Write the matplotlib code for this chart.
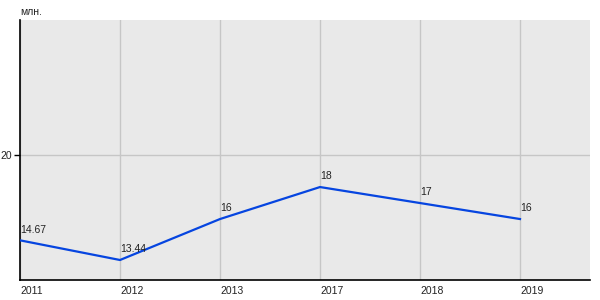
import matplotlib.pyplot as plt

years = ['2011', '2012', '2013', '2017', '2018', '2019']
values = [14.67, 13.44, 16, 18, 17, 16]
value_labels = ['14.67', '13.44', '16', '18', '17', '16']

plt.rcParams['font.family'] = ['Liberation Sans', 'DejaVu Sans']

fig = plt.figure(figsize=(6, 3), dpi=100)
ax = fig.add_axes([20 / 600, 20 / 300, 570 / 600, 260 / 300])
ax.set_facecolor('#e9e9e9')

x = list(range(len(years)))
ax.plot(x, values, color='#0645e0', linewidth=1.6, zorder=3)

# value labels sit just above and to the right of each point
for xi, v, lab in zip(x, values, value_labels):
    ax.annotate(lab, (xi, v), xytext=(0, 4), textcoords='offset points',
                ha='left', va='bottom', fontsize=7.5, color='#222222')

ax.set_xlim(0, 5.7)
ax.set_ylim(12.19, 28.44)
ax.set_xticks(x)
ax.set_xticklabels(years, ha='left', fontsize=7.5, color='#222222')
ax.set_yticks([20])
ax.set_yticklabels(['20'], fontsize=7.5, color='#222222')
ax.tick_params(axis='x', length=0, pad=4)
ax.tick_params(axis='y', length=4, width=1, pad=1.5)

ax.grid(True, color='#c6c6c6', linewidth=1)
ax.set_axisbelow(True)
for side in ['top', 'right']:
    ax.spines[side].set_visible(False)
for side in ['left', 'bottom']:
    ax.spines[side].set_color('black')
    ax.spines[side].set_linewidth(1.2)

fig.text(20 / 600, 1 - 12 / 300, 'млн.', fontsize=7.5, color='#222222',
         ha='left', va='center')

fig.savefig('out.png', dpi=100)
